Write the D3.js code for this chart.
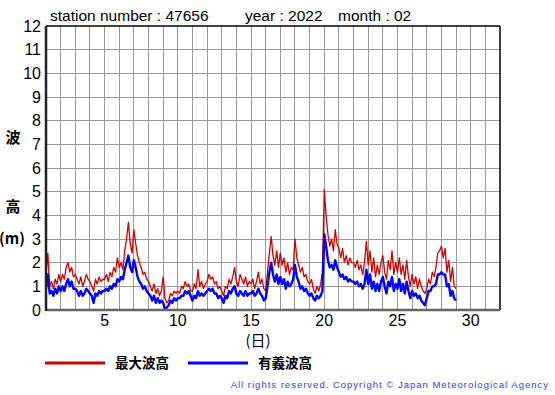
<!DOCTYPE html>
<html>
<head>
<meta charset="utf-8">
<script src="https://d3js.org/d3.v7.min.js"></script>
<style>
  body { margin: 0; background: #fff; }
  text { font-family: "Liberation Sans", Arial, sans-serif; }
  .jp { font-family: "Noto Sans CJK JP", sans-serif; }
</style>
</head>
<body>
<div id="chart"></div>
<script>
// header
var stationNumber = "47656", year = "2022", month = "02";

// x axis: days, y axis: wave height (m)
var dayTicks = [5, 10, 15, 20, 25, 30];
var heightTicks = [0, 1, 2, 3, 4, 5, 6, 7, 8, 9, 10, 11, 12];
var seriesNames = ["最大波高", "有義波高"];

// readings every 3 hours starting 1st 00:00 (one row per day)
var stepHours = 3;
var maxWave = [
  1.5, 2.4, 1.0, 1.2, 0.9, 1.3, 1.1, 1.5,
  1.2, 1.5, 1.3, 1.8, 2.0, 1.6, 1.8, 1.4,
  1.5, 1.3, 1.1, 1.4, 1.0, 1.2, 1.5, 1.3,
  1.2, 1.0, 0.8, 1.3, 1.1, 1.4, 1.2, 1.3,
  1.3, 1.5, 1.2, 1.6, 1.4, 1.8, 1.6, 2.2,
  1.8, 2.0, 1.7, 2.5, 3.0, 3.7, 2.8, 2.4,
  3.4, 2.8, 2.3, 2.0, 1.8, 1.5, 1.6, 1.3,
  1.2, 1.0, 0.8, 1.1, 0.7, 0.9, 0.6, 0.8,
  1.4, 0.5, 0.3, 0.4, 0.7, 0.6, 0.8, 0.7,
  0.8, 0.7, 1.0, 0.9, 1.2, 1.0, 1.1, 0.8,
  0.8, 1.1, 0.9, 1.7, 1.0, 1.2, 0.9, 1.1,
  1.2, 1.5, 1.3, 1.4, 1.1, 1.2, 0.9, 1.0,
  0.8, 0.6, 1.0, 0.9, 1.3, 1.1, 1.4, 1.8,
  1.2, 1.0, 1.5, 1.3, 1.1, 1.4, 1.0, 1.2,
  1.1, 1.3, 0.9, 1.2, 1.6, 1.1, 1.3, 0.9,
  0.8, 1.6, 2.4, 3.1, 2.3, 1.9, 2.5, 1.8,
  2.4, 1.9, 2.2, 1.6, 2.0, 1.5, 1.8, 1.7,
  3.0, 2.2, 1.9, 1.6, 1.8, 1.4, 1.5, 1.2,
  1.1, 1.3, 0.9, 0.7, 1.0, 0.8, 1.1, 1.6,
  5.1, 4.0, 3.2, 2.7, 3.0, 2.5, 3.4, 2.8,
  2.6, 2.2, 2.6, 2.0, 2.3, 1.9, 2.2, 2.0,
  2.0, 1.8, 2.1, 1.7, 1.9, 1.5, 2.0, 2.9,
  1.9, 2.5, 1.6, 2.2, 1.4, 1.9, 1.5, 2.0,
  2.3, 1.6, 1.3, 2.1, 1.7, 2.5, 1.5, 2.0,
  1.6, 2.2, 1.5, 1.9, 1.3, 2.1, 1.4, 1.0,
  1.5, 1.1, 1.4, 0.9, 1.3, 1.0, 0.8, 0.7,
  0.9, 1.3, 1.1, 1.6, 1.4, 1.8, 2.4, 2.5,
  2.7, 2.2, 2.6, 1.6, 2.1, 1.2, 1.8, 1.0,
  0.9
];
var sigWave = [
  0.9, 1.5, 0.7, 0.8, 0.6, 0.9, 0.7, 1.0,
  0.8, 1.0, 0.8, 1.1, 1.3, 1.0, 1.2, 0.9,
  0.9, 0.8, 0.6, 0.8, 0.6, 0.7, 0.9, 0.8,
  0.7, 0.6, 0.3, 0.7, 0.6, 0.8, 0.7, 0.8,
  0.8, 0.9, 0.8, 1.0, 0.9, 1.1, 1.0, 1.3,
  1.2, 1.4, 1.3, 1.7, 2.0, 2.3, 1.8, 1.6,
  2.1, 1.8, 1.4, 1.2, 1.1, 0.9, 1.0, 0.8,
  0.7, 0.6, 0.4, 0.6, 0.3, 0.5, 0.3, 0.4,
  0.3, 0.05, 0.1, 0.2, 0.4, 0.3, 0.5, 0.4,
  0.5, 0.5, 0.6, 0.6, 0.8, 0.7, 0.8, 0.6,
  0.4, 0.6, 0.5, 0.8, 0.6, 0.7, 0.6, 0.7,
  0.8, 0.9, 0.8, 0.9, 0.7, 0.7, 0.5, 0.6,
  0.5, 0.3, 0.6, 0.5, 0.8, 0.7, 0.9, 1.0,
  0.7, 0.6, 0.8, 0.7, 0.6, 0.8, 0.6, 0.7,
  0.7, 0.8, 0.6, 0.7, 0.9, 0.7, 0.6, 0.4,
  0.5, 1.0, 1.6, 2.0, 1.5, 1.2, 1.5, 1.1,
  1.4, 1.1, 1.3, 0.9, 1.2, 1.0, 1.1, 1.3,
  1.9, 1.4, 1.2, 0.9, 1.0, 0.8, 0.9, 0.7,
  0.6, 0.7, 0.5, 0.4, 0.6, 0.5, 0.6, 0.8,
  3.2, 2.7, 2.1, 1.8, 1.9, 1.7, 2.1, 1.8,
  1.6, 1.4, 1.5, 1.3, 1.4, 1.2, 1.3, 1.2,
  1.2, 1.1, 1.2, 1.0, 1.1, 0.9, 1.1, 1.7,
  1.1, 1.5, 0.9, 1.2, 0.8, 1.1, 0.8, 1.2,
  1.4, 1.0, 0.7, 1.2, 1.0, 1.4, 0.8, 1.1,
  0.9, 1.3, 0.8, 1.1, 0.7, 1.2, 0.8, 0.5,
  0.8, 0.6, 0.7, 0.5, 0.6, 0.4, 0.3, 0.2,
  0.5, 0.8, 0.8, 1.0, 1.0, 1.1, 1.5, 1.5,
  1.6, 1.5, 1.5, 1.0, 1.1, 0.6, 0.8, 0.5,
  0.4
];

var margin = {top: 26, right: 55, bottom: 85, left: 46},
    width = 555 - margin.left - margin.right,
    height = 395 - margin.top - margin.bottom;

var svg = d3.select("#chart")
  .append("svg")
    .attr("width", 555)
    .attr("height", 395);

var g = svg.append("g")
    .attr("transform", "translate(" + margin.left + "," + margin.top + ")");

var x = d3.scaleLinear().domain([1, 32]).range([0, width]);
var y = d3.scaleLinear().domain([0, 12]).range([height, 0]);

// grid
g.append("g")
  .selectAll("line")
  .data(d3.range(2, 32))
  .join("line")
    .attr("x1", function(d) { return x(d); })
    .attr("x2", function(d) { return x(d); })
    .attr("y1", 0)
    .attr("y2", height)
    .attr("stroke", "#999")
    .attr("stroke-width", 1)
    .attr("shape-rendering", "crispEdges");

g.append("g")
  .selectAll("line")
  .data(heightTicks.slice(1, -1))
  .join("line")
    .attr("x1", 0)
    .attr("x2", width)
    .attr("y1", function(d) { return y(d); })
    .attr("y2", function(d) { return y(d); })
    .attr("stroke", "#999")
    .attr("stroke-width", 1)
    .attr("shape-rendering", "crispEdges");

// the two series
function toPoints(arr) {
  return arr.map(function(v, i) { return {day: 1 + i * stepHours / 24, value: v}; });
}
var line = d3.line()
  .x(function(d) { return x(d.day); })
  .y(function(d) { return y(d.value); });

g.append("path")
  .datum(toPoints(maxWave))
  .attr("fill", "none")
  .attr("stroke", "#d00000")
  .attr("stroke-width", 1.3)
  .attr("stroke-linejoin", "round")
  .attr("d", line);

g.append("path")
  .datum(toPoints(sigWave))
  .attr("fill", "none")
  .attr("stroke", "#0000ff")
  .attr("stroke-width", 2.4)
  .attr("stroke-linejoin", "round")
  .attr("d", line);

// frame
g.append("line").attr("x1", 0).attr("x2", width).attr("y1", 0).attr("y2", 0)
  .attr("stroke", "#000").attr("stroke-width", 1.5);
g.append("line").attr("x1", width).attr("x2", width).attr("y1", 0).attr("y2", height)
  .attr("stroke", "#000").attr("stroke-width", 1.5);
g.append("line").attr("x1", 0).attr("x2", width).attr("y1", height).attr("y2", height)
  .attr("stroke", "#666").attr("stroke-width", 2.5);
g.append("line").attr("x1", 0).attr("x2", 0).attr("y1", 0).attr("y2", height + 1)
  .attr("stroke", "#222").attr("stroke-width", 2.5);

// tick labels
g.append("g")
  .selectAll("text")
  .data(heightTicks)
  .join("text")
    .attr("x", -5)
    .attr("y", function(d) { return y(d) + 5.7; })
    .attr("text-anchor", "end")
    .attr("font-size", 16)
    .text(function(d) { return d; });

g.append("g")
  .selectAll("text")
  .data(dayTicks)
  .join("text")
    .attr("x", function(d) { return x(d); })
    .attr("y", height + 16)
    .attr("text-anchor", "middle")
    .attr("font-size", 16)
    .text(function(d) { return d; });

// header texts
svg.append("text").attr("x", 50).attr("y", 21).attr("font-size", 15.5)
  .text("station number : " + stationNumber);
svg.append("text").attr("x", 245).attr("y", 21).attr("font-size", 15.5)
  .text("year : " + year);
svg.append("text").attr("x", 338).attr("y", 21).attr("font-size", 15.5)
  .text("month : " + month);

// axis titles
[["波", 143], ["高", 212]].forEach(function(t) {
  svg.append("text").attr("class", "jp")
    .attr("x", 13).attr("y", t[1])
    .attr("text-anchor", "middle")
    .attr("font-size", 15).attr("font-weight", "bold")
    .text(t[0]);
});
svg.append("text").attr("class", "jp")
  .attr("x", 12).attr("y", 244)
  .attr("text-anchor", "middle")
  .attr("font-size", 15).attr("font-weight", "bold")
  .text("(m)");
svg.append("text").attr("class", "jp")
  .attr("x", 258).attr("y", 346)
  .attr("text-anchor", "middle")
  .attr("font-size", 15)
  .text("(日)");

// legend
var legendColors = ["#d00000", "#0000ff"];
var legend = svg.append("g");
seriesNames.forEach(function(name, i) {
  var lx = 45 + i * 143;
  legend.append("line")
    .attr("x1", lx).attr("x2", lx + 60)
    .attr("y1", 363).attr("y2", 363)
    .attr("stroke", legendColors[i]).attr("stroke-width", 3);
  legend.append("text").attr("class", "jp")
    .attr("x", lx + 70).attr("y", 368)
    .attr("font-size", 13.5).attr("font-weight", "bold")
    .text(name);
});

svg.append("text")
  .attr("x", 549).attr("y", 388)
  .attr("text-anchor", "end")
  .attr("font-size", 9.5)
  .attr("letter-spacing", 1)
  .attr("fill", "#3838f0")
  .text("All rights reserved. Copyright © Japan Meteorological Agency");
</script>
</body>
</html>
